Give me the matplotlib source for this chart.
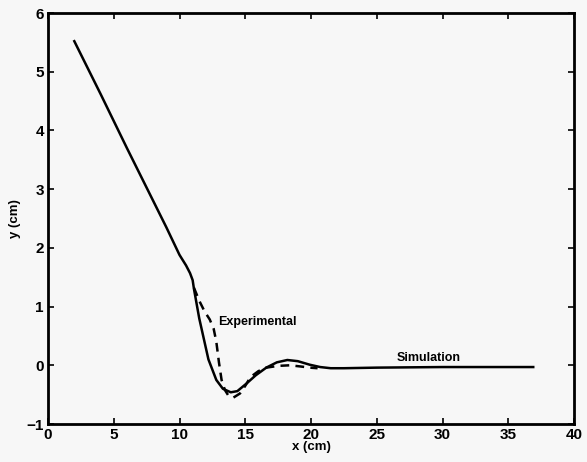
import matplotlib
matplotlib.use("Agg")
import matplotlib.pyplot as plt

sim_x = [2.0, 4.0, 6.0, 8.0, 9.0, 10.0, 10.5, 10.8, 11.0, 11.1, 11.3, 11.5, 11.8, 12.2,
         12.8, 13.3, 13.9, 14.4, 15.1, 15.8, 16.6, 17.4, 18.2, 19.0, 19.9, 20.7, 21.5,
         22.5, 25.0, 30.0, 35.0, 36.9]
sim_y = [5.52, 4.62, 3.70, 2.80, 2.35, 1.88, 1.70, 1.57, 1.45, 1.30, 1.05, 0.80, 0.50, 0.10,
         -0.25, -0.40, -0.46, -0.44, -0.31, -0.17, -0.04, 0.05, 0.09, 0.07, 0.01, -0.03, -0.05,
         -0.05, -0.04, -0.03, -0.03, -0.03]

exp_x = [11.1, 11.5, 11.9, 12.3, 12.6, 12.8, 13.0, 13.2, 13.45, 13.7, 14.1, 14.6, 15.0,
         15.4, 16.0, 16.6, 17.5, 18.4, 19.2, 19.9, 20.5]
exp_y = [1.32, 1.10, 0.92, 0.78, 0.62, 0.40, 0.05, -0.25, -0.42, -0.51, -0.55, -0.48, -0.35,
         -0.20, -0.10, -0.04, -0.01, 0.0, -0.02, -0.04, -0.05]

x_ticks = [0, 5, 10, 15, 20, 25, 30, 35, 40]
y_ticks = [-1, 0, 1, 2, 3, 4, 5, 6]

plt.rcParams['font.family'] = ['Liberation Sans', 'DejaVu Sans']
plt.rcParams['font.weight'] = 'bold'

fig = plt.figure(figsize=(5.87, 4.62), dpi=100, facecolor='#f7f7f7')
ax = fig.add_axes([48/587, 1-424/462, (574-48)/587, (424-13)/462])
ax.set_facecolor('#f7f7f7')

ax.plot(sim_x, sim_y, color='black', lw=1.8)
ax.plot(exp_x, exp_y, color='black', lw=1.8, linestyle=(0, (3.5, 2.5)))

ax.text(12.9, 0.74, 'Experimental', fontsize=9, va='center', ha='left')
ax.text(26.5, 0.12, 'Simulation', fontsize=9, va='center', ha='left')

ax.set_xlim(0, 40)
ax.set_ylim(-1, 6)
ax.set_xticks(x_ticks)
ax.set_yticks(y_ticks)
ax.tick_params(direction='in', top=True, right=True, length=4, width=1.2, labelsize=11, pad=3)
for lab in ax.get_xticklabels() + ax.get_yticklabels():
    lab.set_fontweight('bold')
for s in ax.spines.values():
    s.set_linewidth(2)

ax.set_xlabel('x (cm)', fontsize=9.5, fontweight='bold', labelpad=-1)
ax.set_ylabel('y (cm)', fontsize=9.5, fontweight='bold', labelpad=4)

fig.savefig('out.png', dpi=100, facecolor=fig.get_facecolor())
